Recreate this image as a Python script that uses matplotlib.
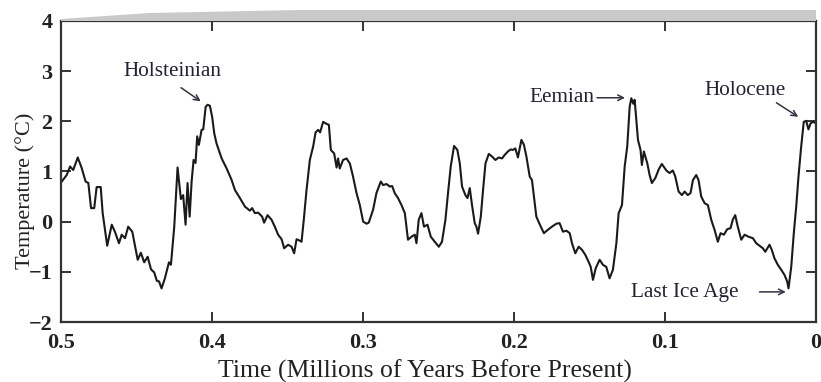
import numpy as np
import matplotlib.pyplot as plt
from matplotlib.patches import Polygon

# reconstructed temperature record
# time in thousands of years before present, temperature anomaly in deg C
kyr = [499.5, 496.2, 494.0, 491.9, 488.9, 486.3, 483.7, 481.9, 480.1, 478.0,
       476.4, 473.7, 472.4, 469.4, 466.4, 464.3, 461.6, 459.8, 457.6, 455.5,
       452.8, 449.2, 447.1, 444.9, 442.6, 440.4, 438.3, 436.5, 435.1, 433.4,
       431.2, 428.5, 427.2, 425.0, 422.8, 420.6, 419.1, 417.5, 416.2, 414.8,
       413.5, 412.2, 410.9, 409.8, 408.7, 406.9, 405.8, 404.2, 402.9, 401.4,
       399.9, 398.5, 397.0, 393.6, 390.3, 387.0, 384.8, 381.5, 378.2, 374.9,
       373.4, 371.6, 369.4, 366.8, 365.5, 363.2, 360.6, 358.4, 356.2, 353.9,
       352.2, 349.6, 347.3, 345.6, 344.0, 341.8, 340.7, 339.2, 337.4, 335.2,
       333.0, 331.4, 329.7, 328.4, 326.4, 324.2, 322.6, 321.3, 319.1, 317.5,
       316.5, 315.4, 313.2, 310.9, 308.7, 306.6, 304.3, 302.1, 299.9, 297.7,
       296.2, 293.3, 291.1, 288.2, 286.7, 284.4, 282.3, 280.7, 279.0, 276.8,
       274.5, 272.3, 270.2, 267.9, 265.7, 264.6, 263.1, 261.3, 259.6, 257.3,
       255.1, 252.5, 249.8, 247.7, 245.4, 243.7, 241.9, 239.7, 237.5, 235.9,
       234.4, 232.2, 230.8, 229.3, 227.8, 226.0, 224.9, 223.8, 222.0, 220.5,
       218.9, 216.7, 214.6, 212.3, 210.1, 207.9, 206.2, 204.0, 202.2, 200.7,
       199.1, 197.4, 195.1, 193.4, 191.8, 189.6, 188.1, 186.8, 185.2, 183.0,
       180.2, 177.5, 174.9, 171.9, 169.8, 167.6, 165.3, 163.1, 161.6, 159.4,
       157.2, 155.0, 152.8, 150.6, 149.2, 147.7, 145.9, 143.3, 141.1, 138.9,
       136.7, 134.5, 132.2, 130.7, 128.5, 126.7, 125.0, 123.4, 122.3, 121.0,
       120.1, 119.0, 117.9, 116.2, 115.3, 114.0, 111.7, 110.2, 108.7, 106.4,
       104.2, 102.1, 99.1, 97.0, 94.8, 93.2, 91.0, 88.8, 87.0, 84.9,
       83.1, 81.5, 79.3, 77.8, 76.0, 73.8, 71.6, 69.4, 67.2, 65.0,
       63.2, 61.0, 58.8, 56.6, 55.1, 53.5, 51.8, 49.5, 47.3, 44.7,
       41.8, 39.6, 37.4, 35.2, 33.6, 30.8, 29.3, 27.5, 25.3, 23.0,
       20.9, 19.1, 18.2, 16.4, 14.7, 13.1, 11.6, 9.8, 8.1, 6.5,
       5.0, 3.6, 2.1, 0.5]
temp = [0.80, 0.93, 1.10, 1.03, 1.28, 1.07, 0.80, 0.77, 0.27, 0.27,
        0.69, 0.69, 0.17, -0.48, -0.06, -0.20, -0.43, -0.26, -0.33, -0.10,
        -0.20, -0.76, -0.62, -0.81, -0.70, -0.95, -1.01, -1.18, -1.19, -1.33,
        -1.13, -0.81, -0.86, -0.10, 1.08, 0.45, 0.53, -0.06, 0.77, 0.10,
        0.80, 1.23, 1.17, 1.70, 1.53, 1.83, 1.84, 2.29, 2.33, 2.31,
        2.09, 1.76, 1.56, 1.26, 1.06, 0.83, 0.63, 0.47, 0.30, 0.22,
        0.27, 0.17, 0.18, 0.10, -0.02, 0.13, 0.04, -0.10, -0.26, -0.35,
        -0.53, -0.46, -0.50, -0.63, -0.35, -0.38, -0.40, 0.04, 0.63, 1.23,
        1.50, 1.78, 1.83, 1.78, 1.99, 1.95, 1.93, 1.43, 1.36, 1.08,
        1.26, 1.06, 1.23, 1.26, 1.16, 0.90, 0.57, 0.33, 0.00, -0.04,
        -0.02, 0.24, 0.57, 0.80, 0.73, 0.75, 0.70, 0.71, 0.57, 0.47,
        0.33, 0.17, -0.36, -0.30, -0.26, -0.43, 0.04, 0.17, -0.10, -0.06,
        -0.30, -0.40, -0.50, -0.40, 0.04, 0.57, 1.10, 1.51, 1.43, 1.16,
        0.70, 0.53, 0.47, 0.67, 0.33, -0.03, -0.10, -0.24, 0.10, 0.63,
        1.16, 1.35, 1.30, 1.23, 1.28, 1.26, 1.33, 1.40, 1.44, 1.43,
        1.46, 1.28, 1.63, 1.53, 1.30, 0.90, 0.83, 0.50, 0.10, -0.05,
        -0.23, -0.16, -0.10, -0.04, -0.03, -0.20, -0.18, -0.23, -0.43, -0.63,
        -0.50, -0.56, -0.66, -0.80, -0.90, -1.16, -0.93, -0.76, -0.86, -0.90,
        -1.13, -0.96, -0.43, 0.17, 0.33, 1.10, 1.50, 2.29, 2.46, 2.35,
        2.43, 2.03, 1.63, 1.43, 1.13, 1.40, 1.16, 0.93, 0.77, 0.87,
        1.04, 1.15, 1.02, 0.97, 1.02, 0.90, 0.60, 0.53, 0.60, 0.53,
        0.57, 0.83, 0.93, 0.83, 0.50, 0.37, 0.33, 0.04, -0.16, -0.40,
        -0.23, -0.26, -0.15, -0.13, 0.04, 0.13, -0.10, -0.36, -0.26, -0.30,
        -0.33, -0.43, -0.48, -0.53, -0.60, -0.46, -0.56, -0.73, -0.86, -0.96,
        -1.06, -1.19, -1.33, -0.90, -0.23, 0.30, 0.90, 1.50, 1.99, 2.01,
        1.84, 1.96, 1.99, 1.97]

x_ticks = [0.5, 0.4, 0.3, 0.2, 0.1, 0.0]
x_labels = ['0.5', '0.4', '0.3', '0.2', '0.1', '0']
y_ticks = [-2, -1, 0, 1, 2, 3, 4]

plt.rcParams['font.family'] = ['Liberation Serif', 'DejaVu Serif']

fig = plt.figure(figsize=(8.21, 3.82), dpi=100)
ax = fig.add_axes([61 / 821, 1 - 322 / 382, 755 / 821, 301 / 382])

# grey scan band above the frame
band = Polygon([(61 / 821, 1 - 21 / 382), (61 / 821, 1 - 19 / 382),
                (150 / 821, 1 - 13 / 382), (300 / 821, 1 - 10 / 382),
                (816 / 821, 1 - 10 / 382), (816 / 821, 1 - 21 / 382)],
               closed=True, transform=fig.transFigure, facecolor='#c9c9c9',
               edgecolor='none', zorder=0)
fig.patches.append(band)

t = np.array(kyr) / 1000.0
ax.plot(t, temp, color='#1a1a1a', lw=1.5)

ax.set_xlim(0.5, 0.0)
ax.set_ylim(-2, 4)
ax.set_xticks(x_ticks)
ax.set_xticklabels(x_labels)
ax.set_yticks(y_ticks)
ax.tick_params(direction='in', length=7, width=1.3, top=True, right=True,
               labelsize=16, colors='#222222')
ax.tick_params(axis='x', pad=8)
ax.tick_params(axis='y', pad=6)
for lab in ax.get_xticklabels() + ax.get_yticklabels():
    lab.set_fontweight('bold')
for s in ax.spines.values():
    s.set_linewidth(1.6)
    s.set_color('#333333')

ax.set_xlabel('Time (Millions of Years Before Present)', fontsize=18.5,
              color='#222222')
ax.set_ylabel('Temperature (°C)', fontsize=16, color='#222222')
# labels sit a little off-centre in the original
ax.xaxis.set_label_coords(0.482, -0.125)
ax.yaxis.set_label_coords(-0.034, 0.435)

arrow = dict(arrowstyle='->', color='#333344', lw=1.1, shrinkA=0, shrinkB=0)
txt = dict(fontsize=15.3, color='#222233', va='center')

ax.text(0.4265, 3.0, 'Holsteinian', ha='center', **txt)
ax.annotate('', xy=(0.4075, 2.40), xytext=(0.4205, 2.67), arrowprops=arrow)

ax.text(0.1465, 2.47, 'Eemian', ha='right', **txt)
ax.annotate('', xy=(0.1265, 2.47), xytext=(0.1450, 2.47), arrowprops=arrow)

ax.text(0.0467, 2.61, 'Holocene', ha='center', **txt)
ax.annotate('', xy=(0.0118, 2.09), xytext=(0.0262, 2.37), arrowprops=arrow)

ax.text(0.0870, -1.42, 'Last Ice Age', ha='center', **txt)
ax.annotate('', xy=(0.0200, -1.40), xytext=(0.0374, -1.40), arrowprops=arrow)

fig.savefig('out.png', dpi=100)
